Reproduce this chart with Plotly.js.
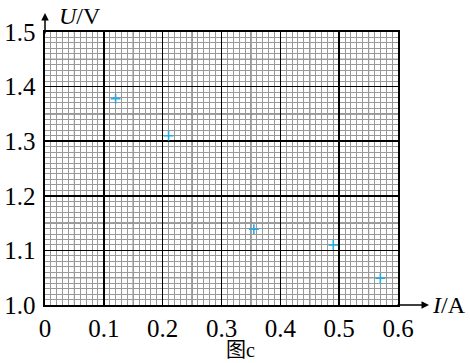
<!DOCTYPE html>
<html>
<head>
<meta charset="utf-8">
<script src="https://cdn.plot.ly/plotly-3.0.1.min.js"></script>
<style>html,body{margin:0;padding:0;background:#fff;}#chart{width:470px;height:363px;}</style>
</head>
<body>
<div id="chart"></div>
<script>
// Data
const currentI = [0.12, 0.21, 0.355, 0.49, 0.57];
const voltageU = [1.378, 1.31, 1.139, 1.11, 1.049];

const xTickVals = [0, 0.1, 0.2, 0.3, 0.4, 0.5, 0.6];
const xTickText = ['0', '0.1', '0.2', '0.3', '0.4', '0.5', '0.6'];
const yTickVals = [1.0, 1.1, 1.2, 1.3, 1.4, 1.5];
const yTickText = ['1.0', '1.1', '1.2', '1.3', '1.4', '1.5'];

const xLabel = '<i>I</i>/A';
const yLabel = '<i>U</i>/V';
const caption = '图c';

const serif = '"Liberation Serif", "Times New Roman", Times, serif';

// medium lines every 0.05 (half-major) on the graph paper
const shapes = [];
for (let k = 1; k < 12; k += 2) {
  const v = k * 0.05;
  shapes.push({type: 'line', xref: 'x', yref: 'paper', x0: v, x1: v, y0: 0, y1: 1,
    line: {color: '#444', width: 1.1}, layer: 'between'});
}
for (let k = 1; k < 10; k += 2) {
  const v = 1.0 + k * 0.05;
  shapes.push({type: 'line', xref: 'paper', yref: 'y', x0: 0, x1: 1, y0: v, y1: v,
    line: {color: '#444', width: 1.1}, layer: 'between'});
}

const trace = {
  x: currentI, y: voltageU, type: 'scatter', mode: 'markers',
  marker: {symbol: 'cross-thin', size: 7, color: '#29abe2', line: {color: '#29abe2', width: 1.6}},
  hoverinfo: 'none', cliponaxis: false
};

const layout = {
  width: 470, height: 363,
  margin: {l: 45, r: 72, t: 32, b: 58, pad: 0},
  paper_bgcolor: '#fff', plot_bgcolor: '#fff',
  showlegend: false,
  font: {family: serif, size: 22, color: '#000'},
  xaxis: {
    range: [0, 0.6], tickmode: 'array', tickvals: xTickVals, ticktext: xTickText,
    showgrid: true, gridcolor: '#000', gridwidth: 1.6, zeroline: false,
    showline: true, linecolor: '#000', linewidth: 1.6, mirror: true,
    ticks: '', ticklabelstandoff: 0,
    tickfont: {family: serif, size: 25, color: '#000'},
    minor: {tickmode: 'linear', tick0: 0, dtick: 0.01, showgrid: true, gridcolor: '#999', gridwidth: 1}
  },
  yaxis: {
    range: [1.0, 1.5], tickmode: 'array', tickvals: yTickVals, ticktext: yTickText,
    showgrid: true, gridcolor: '#000', gridwidth: 1.6, zeroline: false,
    showline: true, linecolor: '#000', linewidth: 1.6, mirror: true,
    ticks: '', ticklabelstandoff: 3,
    tickfont: {family: serif, size: 25, color: '#000'},
    minor: {tickmode: 'linear', tick0: 1.0, dtick: 0.01, showgrid: true, gridcolor: '#999', gridwidth: 1}
  },
  shapes: shapes,
  annotations: [
    // y-axis arrow
    {xref: 'x', yref: 'paper', x: 0, y: 1 + 19 / 273, ax: 0, ay: 22, axref: 'pixel', ayref: 'pixel',
     text: '', showarrow: true, arrowhead: 2, arrowsize: 1, arrowwidth: 1.5, arrowcolor: '#000', standoff: 0},
    // x-axis arrow
    {xref: 'paper', yref: 'y', x: 1 + 31 / 353, y: 1.0, ax: -33, ay: 0, axref: 'pixel', ayref: 'pixel',
     text: '', showarrow: true, arrowhead: 2, arrowsize: 1, arrowwidth: 1.5, arrowcolor: '#000', standoff: 0},
    {xref: 'paper', yref: 'paper', x: 12 / 353, y: 1 + 16 / 273, xanchor: 'left', yanchor: 'middle',
     text: yLabel, showarrow: false, font: {family: serif, size: 24, color: '#000'}},
    {xref: 'paper', yref: 'y', x: 385 / 353, y: 1.0, xanchor: 'left', yanchor: 'middle',
     text: xLabel, showarrow: false, font: {family: serif, size: 24, color: '#000'}},
    {xref: 'paper', yref: 'paper', x: 195 / 353, y: -45 / 273, xanchor: 'center', yanchor: 'middle',
     text: caption, showarrow: false, font: {family: '"Liberation Serif", "Noto Sans CJK SC", serif', size: 20, color: '#000'}}
  ]
};

Plotly.newPlot('chart', [trace], layout, {staticPlot: true, displayModeBar: false});
</script>
</body>
</html>
